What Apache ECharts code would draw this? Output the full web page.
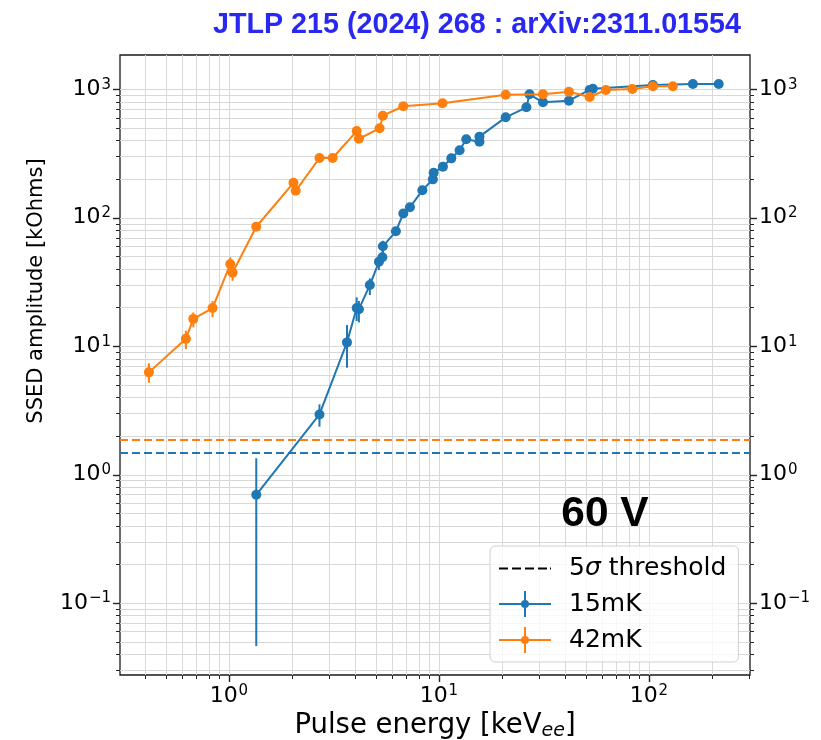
<!DOCTYPE html>
<html>
<head>
<meta charset="utf-8">
<script src="https://cdn.jsdelivr.net/npm/echarts@6/dist/echarts.min.js"></script>
<style>html,body{margin:0;padding:0;background:#fff;}#c{width:821px;height:740px;}</style>
</head>
<body>
<div id="c"></div>
<script>
// ---- data ----
const blueX = [1.35, 2.70, 3.65, 4.06, 4.16, 4.69, 5.18, 5.38, 5.41, 6.24, 6.77, 7.28, 8.34, 9.36, 9.44, 10.45, 11.46, 12.55, 13.5, 15.6, 15.6, 20.8, 26.1, 27.0, 31.3, 41.6, 52.2, 54.1, 104.5, 162, 215];
const blueY = [0.696, 2.94, 10.7, 19.8, 19.4, 29.9, 45.4, 49.2, 59.9, 78.4, 108, 120.5, 163.5, 199, 224, 250, 290, 335, 408, 391, 428, 605, 724, 914, 792, 815, 988, 1011, 1080, 1099, 1099];
const blueLo = [0.0462, 2.36, 6.79, 15.7, 15.3, 25.0, 39.1, 45, 52.8, 73, 102, 114, 155, 190, 213, 240, 278, 322, 392, 376, 412, 585, 700, 885, 766, 790, 960, 985, 1050, 1070, 1070];
const blueHi = [1.34, 3.52, 14.6, 24.0, 22.5, 33.7, 50.3, 54, 66.2, 84, 114, 127, 172, 208, 235, 260, 302, 348, 424, 406, 444, 625, 748, 943, 818, 840, 1016, 1037, 1110, 1128, 1128];

const orangeX = [0.416, 0.624, 0.677, 0.836, 1.015, 1.041, 1.35, 2.03, 2.08, 2.70, 3.12, 4.06, 4.16, 5.22, 5.41, 6.77, 10.4, 20.8, 31.3, 41.6, 52.2, 62.4, 83.4, 104.5, 130];
const orangeY = [6.25, 11.4, 16.3, 19.8, 43.6, 37.3, 85.1, 187, 162, 292, 292, 473, 412, 497, 623, 738, 778, 908, 914, 958, 871, 988, 1005, 1055, 1055];
const orangeLo = [5.19, 9.5, 14.0, 16.8, 38.7, 32.3, 80, 178, 154, 280, 280, 452, 394, 476, 598, 712, 752, 880, 886, 930, 845, 960, 976, 1025, 1025];
const orangeHi = [7.35, 13.2, 18.3, 22.5, 49.2, 42.3, 90, 196, 170, 304, 304, 494, 430, 518, 648, 764, 804, 936, 942, 986, 897, 1016, 1034, 1085, 1085];

const thresholdBlue = 1.49;
const thresholdOrange = 1.86;

const xMin = 0.303, xMax = 303;
const yMin = 0.0275, yMax = 1850;
const xMajorTicks = [1, 10, 100];
const xMinorTicks = [0.4,0.5,0.6,0.7,0.8,0.9, 2,3,4,5,6,7,8,9, 20,30,40,50,60,70,80,90, 200,300];
const yMajorTicks = [0.1, 1, 10, 100, 1000];
const yMinorTicks = [0.03,0.04,0.05,0.06,0.07,0.08,0.09, 0.2,0.3,0.4,0.5,0.6,0.7,0.8,0.9, 2,3,4,5,6,7,8,9, 20,30,40,50,60,70,80,90, 200,300,400,500,600,700,800,900];

const titleText = 'JTLP 215 (2024) 268 : arXiv:2311.01554';
const yTitle = 'SSED amplitude [kOhms]';
const voltageText = '60 V';
const legendNames = ['5σ threshold', '15mK', '42mK'];

// ---- styling ----
const BLUE = '#1f77b4', ORANGE = '#ff7f0e';
const FONT = 'DejaVu Sans';
const GRID_C = '#d8d8d8';

function powLabel(v) {
  const l = Math.log10(v);
  const r = Math.round(l);
  if (Math.abs(l - r) > 1e-6) return '';
  const e = r < 0 ? '\u2212' + (-r) : String(r);
  return '{b|10}{s|' + e + '}';
}
const labelRich = {
  b: { fontFamily: FONT, fontSize: 22, color: '#000' },
  s: { fontFamily: FONT, fontSize: 15, color: '#000', verticalAlign: 'top', padding: [0, 0, 9, 1] }
};

function gridRenderX(params, api) {
  const cs = params.coordSys;
  const v = api.value(0);
  const major = xMajorTicks.indexOf(v) >= 0;
  const px = Math.round(api.coord([v, yMin])[0]) + 0.5;
  const bottom = cs.y + cs.height;
  const children = [];
  if (px > cs.x + 1 && px < cs.x + cs.width - 1) {
    children.push({ type: 'line', shape: { x1: px, y1: cs.y, x2: px, y2: bottom }, style: { stroke: GRID_C, lineWidth: 1 } });
  }
  children.push({ type: 'line', shape: { x1: px, y1: bottom, x2: px, y2: bottom + (major ? 7 : 4) }, style: { stroke: '#222', lineWidth: major ? 1.4 : 1 } });
  return { type: 'group', children };
}
function gridRenderY(params, api) {
  const cs = params.coordSys;
  const v = api.value(1);
  const major = yMajorTicks.indexOf(v) >= 0;
  const py = Math.round(api.coord([xMin, v])[1]) + 0.5;
  const right = cs.x + cs.width;
  const L = major ? 7 : 4, W = major ? 1.4 : 1;
  const children = [];
  if (py > cs.y + 1 && py < cs.y + cs.height - 1) {
    children.push({ type: 'line', shape: { x1: cs.x, y1: py, x2: right, y2: py }, style: { stroke: GRID_C, lineWidth: 1 } });
  }
  children.push({ type: 'line', shape: { x1: cs.x - L, y1: py, x2: cs.x, y2: py }, style: { stroke: '#222', lineWidth: W } });
  children.push({ type: 'line', shape: { x1: right, y1: py, x2: right + L, y2: py }, style: { stroke: '#222', lineWidth: W } });
  return { type: 'group', children };
}
function errRender(color) {
  return function (params, api) {
    const x = api.value(0);
    const p1 = api.coord([x, api.value(1)]);
    const p2 = api.coord([x, api.value(2)]);
    return { type: 'line', shape: { x1: p1[0], y1: p1[1], x2: p2[0], y2: p2[1] }, style: { stroke: color, lineWidth: 2 } };
  };
}

const errIcon = 'path://M0 12 L52 12 L52 14 L0 14 Z M25 0 L27 0 L27 26 L25 26 Z M26 9 A4 4 0 1 1 25.99 9 Z';
const dashIcon = 'path://M0 0 L9 0 L9 2 L0 2 Z M13 0 L22 0 L22 2 L13 2 Z M26 0 L35 0 L35 2 L26 2 Z M39 0 L48 0 L48 2 L39 2 Z M51 0 L52 0 L52 2 L51 2 Z';

const chart = echarts.init(document.getElementById('c'), null, { renderer: 'canvas' });
const yAxisBase = {
  type: 'log', logBase: 10, min: yMin, max: yMax,
  splitLine: { show: false }, axisTick: { show: false }, axisLine: { show: false },
  axisLabel: { formatter: powLabel, rich: labelRich, margin: 9 }
};
chart.setOption({
  animation: false,
  backgroundColor: '#fff',
  grid: { left: 120, right: 71, top: 55, bottom: 65, show: true, borderColor: '#1a1a1a', borderWidth: 1.3,
    backgroundColor: 'transparent', containLabel: false, outerBoundsMode: 'none' },
  xAxis: {
    type: 'log', logBase: 10, min: xMin, max: xMax,
    splitLine: { show: false }, axisTick: { show: false }, axisLine: { show: false },
    axisLabel: { formatter: powLabel, rich: labelRich, margin: 9 },
    name: 'Pulse energy [keV{sub|ee}]', nameLocation: 'middle', nameGap: 32,
    nameTextStyle: {
      fontFamily: FONT, fontSize: 27.5, color: '#000',
      rich: { sub: { fontFamily: FONT, fontSize: 19, fontStyle: 'italic', color: '#000', verticalAlign: 'bottom', padding: [10, 0, 0, 0] } }
    }
  },
  yAxis: [
    Object.assign({ position: 'left' }, yAxisBase),
    Object.assign({ position: 'right' }, yAxisBase)
  ],
  legend: {
    orient: 'vertical', left: 490, top: 546,
    padding: [10, 12, 9, 9], itemGap: 10, itemWidth: 52, itemHeight: 26, symbolKeepAspect: true,
    backgroundColor: 'rgba(255,255,255,0.8)', borderColor: '#d0d0d0', borderWidth: 1, borderRadius: 5,
    textStyle: {
      fontFamily: FONT, fontSize: 25, color: '#000',
      rich: {
        t: { fontFamily: FONT, fontSize: 25, color: '#000', padding: [0, 0, 0, 13] },
        i: { fontFamily: FONT, fontSize: 25, color: '#000', fontStyle: 'italic' },
        r: { fontFamily: FONT, fontSize: 25, color: '#000' }
      }
    },
    formatter: function (n) {
      if (n.indexOf('σ') >= 0) return '{t|5}{i|σ}{r| threshold}';
      return '{t|' + n + '}';
    },
    data: [
      { name: legendNames[0], icon: dashIcon },
      { name: legendNames[1], icon: errIcon },
      { name: legendNames[2], icon: errIcon }
    ]
  },
  graphic: [
    { type: 'text', left: 213, top: 11, z: 10,
      style: { text: titleText, fontFamily: 'Liberation Sans', fontWeight: 'bold', fontSize: 28.7, fill: '#2828f0' } },
    { type: 'text', x: 37, y: 291, rotation: Math.PI / 2, z: 10,
      style: { text: yTitle, fontFamily: FONT, fontSize: 21, fill: '#000', textAlign: 'center', textVerticalAlign: 'middle', align: 'center', verticalAlign: 'middle' } },
    { type: 'text', x: 605, y: 514, z: 10,
      style: { text: voltageText, fontFamily: 'Liberation Sans', fontWeight: 'bold', fontSize: 42.5, fill: '#000', textAlign: 'center', textVerticalAlign: 'middle', align: 'center', verticalAlign: 'middle' } }
  ],
  series: [
    { type: 'custom', name: 'xgrid', silent: true, clip: false, z: 0, renderItem: gridRenderX,
      data: xMajorTicks.concat(xMinorTicks).map(v => [v, yMax]) },
    { type: 'custom', name: 'ygrid', silent: true, clip: false, z: 0, renderItem: gridRenderY,
      data: yMajorTicks.concat(yMinorTicks).map(v => [xMin, v]) },
    { type: 'line', name: legendNames[0], data: [], symbol: 'none',
      lineStyle: { color: '#000', width: 2, type: [9, 4] }, itemStyle: { color: '#000' } },
    { type: 'custom', name: 'err15', silent: true, z: 3, renderItem: errRender(BLUE),
      encode: { x: 0, y: [1, 2] },
      data: blueX.map((x, i) => [x, blueLo[i], blueHi[i]]) },
    { type: 'line', name: legendNames[1], z: 4, symbol: 'circle', symbolSize: 10,
      itemStyle: { color: BLUE }, lineStyle: { color: BLUE, width: 2 },
      data: blueX.map((x, i) => [x, blueY[i]]),
      markLine: { silent: true, symbol: ['none', 'none'], label: { show: false },
        lineStyle: { color: BLUE, width: 2, type: [8, 4] }, data: [{ yAxis: thresholdBlue }] } },
    { type: 'custom', name: 'err42', silent: true, z: 5, renderItem: errRender(ORANGE),
      encode: { x: 0, y: [1, 2] },
      data: orangeX.map((x, i) => [x, orangeLo[i], orangeHi[i]]) },
    { type: 'line', name: legendNames[2], z: 6, symbol: 'circle', symbolSize: 10,
      itemStyle: { color: ORANGE }, lineStyle: { color: ORANGE, width: 2 },
      data: orangeX.map((x, i) => [x, orangeY[i]]),
      markLine: { silent: true, symbol: ['none', 'none'], label: { show: false },
        lineStyle: { color: ORANGE, width: 2, type: [8, 4] }, data: [{ yAxis: thresholdOrange }] } }
  ]
});
</script>
</body>
</html>
